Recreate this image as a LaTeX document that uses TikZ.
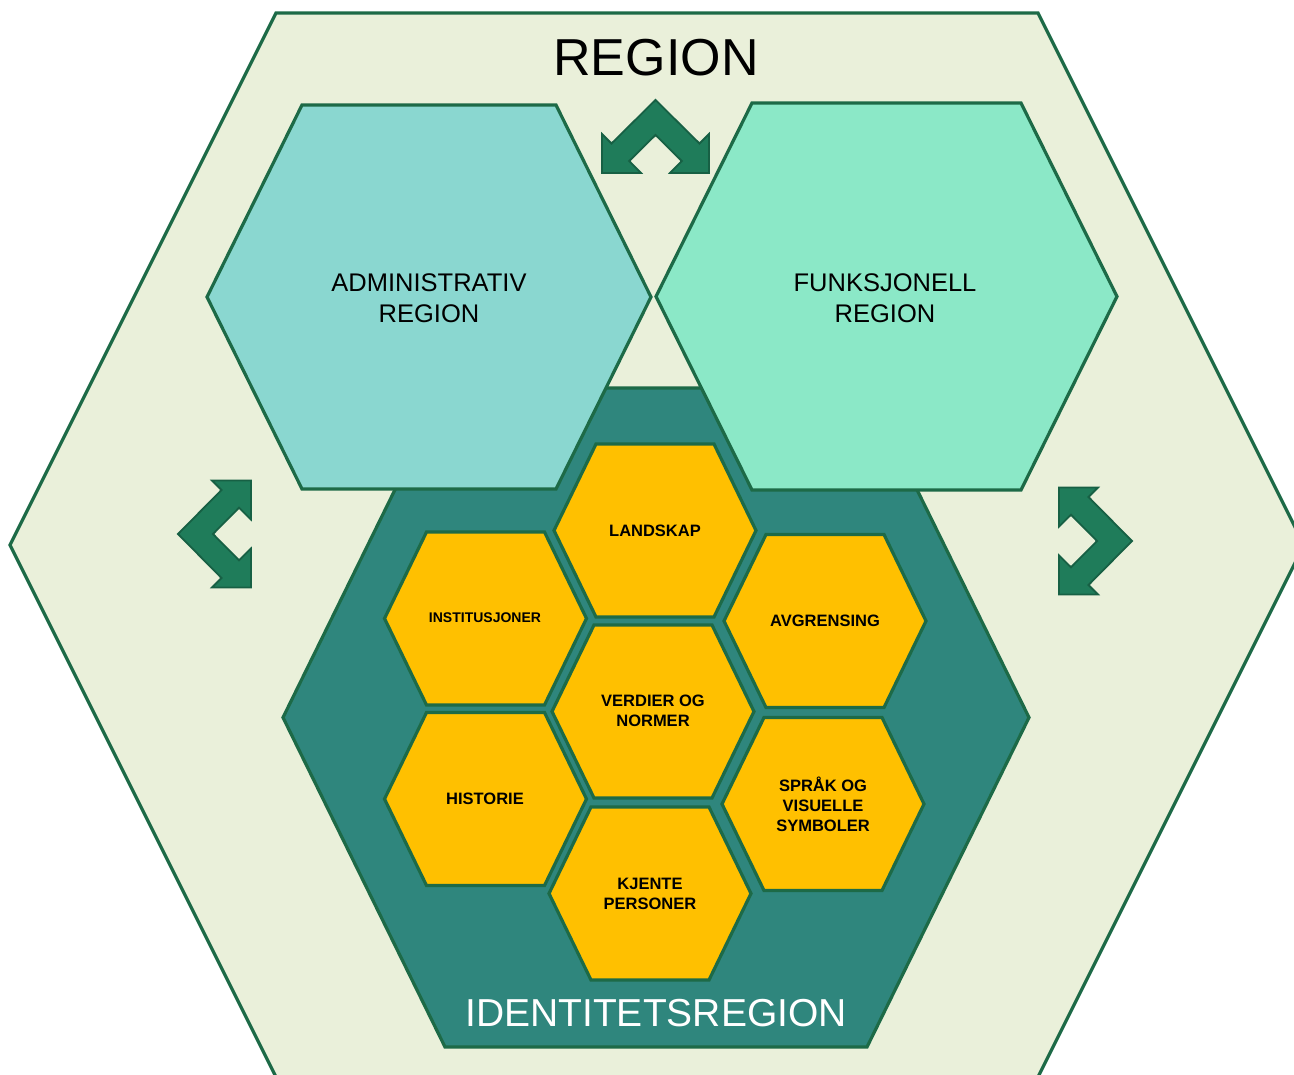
\documentclass[tikz,border=0pt]{standalone}
\usepackage{fontspec}
\setmainfont{Liberation Sans}
\definecolor{bgc}{HTML}{EAF0DA}
\definecolor{edgec}{HTML}{1D6A47}
\definecolor{darkteal}{HTML}{2F867D}
\definecolor{admc}{HTML}{8AD7D0}
\definecolor{funkc}{HTML}{8BE8C7}
\definecolor{gold}{HTML}{FFC000}
\definecolor{arrowc}{HTML}{1F7C5A}
\definecolor{arrowe}{HTML}{176044}
\newcommand\hexa[6]{\draw[#1] ({#2-#4},#3) -- ({#2-#4+#6},{#3-#5}) -- ({#2+#4-#6},{#3-#5}) -- ({#2+#4},#3) -- ({#2+#4-#6},{#3+#5}) -- ({#2-#4+#6},{#3+#5}) -- cycle;}
\tikzset{
  hexline/.style={draw=edgec,line width=3.2},
  yhex/.style={hexline,fill=gold},
  chev/.style={fill=arrowc,draw=arrowe,line width=1.8,line join=miter},
  ylabel/.style={font=\bfseries\fontsize{16.5}{20}\selectfont,align=center,text=black},
  biglabel/.style={font=\fontsize{25.5}{31}\selectfont,align=center,text=black},
}
\begin{document}
\begin{tikzpicture}[x=1pt,y=-1pt]
\useasboundingbox (0,0) rectangle (1294,1075);
\fill[white] (0,0) rectangle (1294,1075);
\begin{scope}
\clip (0,0) rectangle (1294,1075);
% outer region hexagon
\hexa{hexline,fill=bgc}{657}{545}{647}{532}{266}
% identity region
\hexa{hexline,fill=darkteal}{656}{717.5}{373}{329.5}{162}
% administrative and functional
\hexa{hexline,fill=admc}{429}{297}{222}{192}{95}
\hexa{hexline,fill=funkc}{886.5}{296.5}{230.5}{193.5}{96}
% yellow hexagons
\hexa{yhex}{655}{530.5}{101}{86.5}{42}
\hexa{yhex}{485.5}{618.5}{101}{86.5}{42}
\hexa{yhex}{825}{621}{101}{86.5}{42}
\hexa{yhex}{653}{711.5}{101}{86.5}{42}
\hexa{yhex}{485.5}{799}{101}{86.5}{42}
\hexa{yhex}{823}{804}{101}{86.5}{42}
\hexa{yhex}{650}{893.5}{101}{86.5}{42}
\end{scope}
% arrows
\draw[chev] (655.5,100) -- (699.5,143.5) -- (709,134) -- (709,173) -- (670,173) -- (681.75,161) -- (655.5,135) -- (629.25,161) -- (641,173) -- (602,173) -- (602,134) -- (611.5,143.5) -- cycle;
\draw[chev] (178,534) -- (221.5,578) -- (212,587.5) -- (251,587.5) -- (251,548.5) -- (239,560.25) -- (213,534) -- (239,507.75) -- (251,519.5) -- (251,480.5) -- (212,480.5) -- (221.5,490) -- cycle;
\draw[chev] (1132,541) -- (1088.5,585) -- (1098,594.5) -- (1059,594.5) -- (1059,555.5) -- (1071,567.25) -- (1097,541) -- (1071,514.75) -- (1059,526.5) -- (1059,487.5) -- (1098,487.5) -- (1088.5,497) -- cycle;
% texts
\node[font=\fontsize{52}{60}\selectfont,text=black] (region) at (656,58) {REGION};
\node[biglabel] (adm) at (429,298) {ADMINISTRATIV\\REGION};
\node[biglabel] (funk) at (885,298) {FUNKSJONELL\\REGION};
\node[font=\fontsize{39}{45}\selectfont,text=white] (ident) at (656,1013) {IDENTITETSREGION};
\node[ylabel] (landskap) at (655,531) {LANDSKAP};
\node[ylabel,font=\bfseries\fontsize{14}{18}\selectfont] (inst) at (485,618) {INSTITUSJONER};
\node[ylabel] (avgr) at (825,621) {AVGRENSING};
\node[ylabel] (verdier) at (653,711) {VERDIER OG\\NORMER};
\node[ylabel] (historie) at (485,799) {HISTORIE};
\node[ylabel] (sprak) at (823,804) {SPRÅK OG\\VISUELLE\\SYMBOLER};
\node[ylabel] (kjente) at (650,894) {KJENTE\\PERSONER};
\end{tikzpicture}
\end{document}
